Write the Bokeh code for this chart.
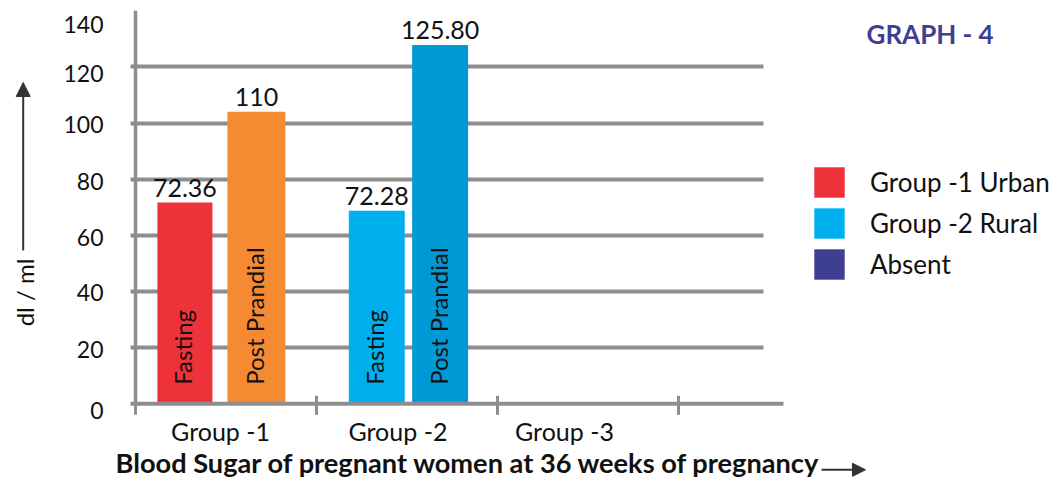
import math
from bokeh.plotting import figure
from bokeh.models import (ColumnDataSource, LabelSet, Label, Arrow, NormalHead, Range1d,
                          FixedTicker, Grid, Legend, LegendItem)
from bokeh.core.properties import value
from bokeh.embed import file_html
from bokeh.resources import INLINE

# ---------------- data ----------------
groups = ["Group -1", "Group -2", "Group -3"]
bar_group = [0, 0, 1, 1]
bar_kind = ["Fasting", "Post Prandial", "Fasting", "Post Prandial"]
bar_values = [71.7, 104.0, 68.8, 127.8]
value_labels = ["72.36", "110", "72.28", "125.80"]
legend_labels = ["Group -1 Urban", "Group -2 Rural", "Absent"]
absent_group = [2]
absent_values = [0]
y_ticks = [0, 20, 40, 60, 80, 100, 120, 140]
y_tick_labels = ["0", "20", "40", "60", "80", "100", "120", "140"]
group_edges = [0, 1, 2, 3]
title_text = "GRAPH - 4"
x_title = "Blood Sugar of pregnant women at 36 weeks of pregnancy"
y_title = "dl / ml"

# ---------------- style / layout ----------------
FONT = "Lato"
W, H = 1060, 482
X0_PX, PX_PER_X = 135.0, 181.0      # pixel position of x=0, pixels per group
Y0_PX, PX_PER_Y = 403.3, 2.807      # pixel position of y=0, pixels per unit
X_AXIS_END = 3.58
GRID_END = 3.47
TICK_OUT_PX = 5
XTICK_IN_PX, XTICK_OUT_PX = 8, 11

bar_offsets = [0.273, 0.668, 0.333, 0.683]
bar_widths = [0.304, 0.32, 0.309, 0.309]
bar_colors = ["#ee3239", "#f58a33", "#00b0ee", "#0099d6"]
absent_color = "#3e3f92"
grid_color = "#8e8e8e"
text_color = "#111111"
arrow_color = "#333333"
group_label_pos = [0.47, 1.45, 2.37]
ytick_label_shift = [-7, -2, -1, -2, -2, -1, -7, -14]


def dx(px):
    return (px - X0_PX) / PX_PER_X


def dy(py):
    return (Y0_PX - py) / PX_PER_Y


bar_x = [g + o for g, o in zip(bar_group, bar_offsets)]

p = figure(width=W, height=H, x_range=Range1d(dx(0), dx(W)), y_range=Range1d(dy(H), dy(0)),
           x_axis_type=None, y_axis_type=None, output_backend="svg", toolbar_location=None,
           min_border=0)
p.outline_line_color = None
p.background_fill_color = "white"
p.border_fill_color = "white"

# horizontal grid lines (also act as y-axis ticks on the left)
grid = Grid(dimension=1, ticker=FixedTicker(ticks=y_ticks[1:-1]),
            grid_line_color=grid_color, grid_line_width=4,
            cross_bounds=(-TICK_OUT_PX / PX_PER_X, GRID_END))
p.add_layout(grid)

# bars
src = ColumnDataSource(dict(x=bar_x, top=bar_values, w=bar_widths, color=bar_colors,
                            vlab=value_labels, kind=bar_kind, zero=[0] * len(bar_x)))
bars = p.vbar(x="x", top="top", width="w", fill_color="color", line_color=None, source=src)
absent = p.vbar(x=[g + 0.5 for g in absent_group], top=absent_values, width=0.3,
                fill_color=absent_color, line_color=None)

# axis lines and ticks
p.segment(x0=[0], y0=[0], x1=[0], y1=[y_ticks[-1]], line_color=grid_color, line_width=3.5)
p.segment(x0=[-TICK_OUT_PX / PX_PER_X], y0=[0], x1=[X_AXIS_END], y1=[0],
          line_color=grid_color, line_width=4)
p.segment(x0=group_edges, y0=[XTICK_IN_PX / PX_PER_Y] * len(group_edges),
          x1=group_edges, y1=[-XTICK_OUT_PX / PX_PER_Y] * len(group_edges),
          line_color=grid_color, line_width=3)

# value labels above bars
p.add_layout(LabelSet(x="x", y="top", text="vlab", source=src, text_align="center",
                      text_baseline="alphabetic", y_offset=6, text_font=value(FONT),
                      text_font_size="25px", text_color=text_color))
# rotated labels inside bars
p.add_layout(LabelSet(x="x", y="zero", text="kind", source=src, text_align="left",
                      text_baseline="middle", angle=math.pi / 2, y_offset=19, x_offset=-2,
                      text_font=value(FONT), text_font_size="24px", text_color=text_color))

# y tick labels
ysrc = ColumnDataSource(dict(x=[0] * len(y_ticks), y=y_ticks, t=y_tick_labels,
                             off=ytick_label_shift))
p.add_layout(LabelSet(x="x", y="y", text="t", source=ysrc, text_align="right",
                      text_baseline="middle", x_offset=-32, y_offset="off",
                      text_font=value(FONT), text_font_size="23px", text_color=text_color))
# group labels
gsrc = ColumnDataSource(dict(x=group_label_pos, y=[0] * len(groups), t=groups))
p.add_layout(LabelSet(x="x", y="y", text="t", source=gsrc, text_align="center",
                      text_baseline="alphabetic", y_offset=-37,
                      text_font=value(FONT), text_font_size="25px", text_color=text_color))

# axis titles with arrows
p.add_layout(Label(x=dx(115), y=dy(462), text=x_title, text_align="left",
                   text_baseline="middle", text_font=FONT, text_font_size="27.2px",
                   text_font_style="bold", text_color=text_color))
p.add_layout(Arrow(x_start=dx(821), y_start=dy(469.3), x_end=dx(865), y_end=dy(469.3),
                   line_color=arrow_color, line_width=2,
                   end=NormalHead(size=13, fill_color=arrow_color, line_color=arrow_color)))
p.add_layout(Label(x=dx(24), y=dy(292), text=y_title, angle=math.pi / 2, text_align="center",
                   text_baseline="middle", text_font=FONT, text_font_size="24px",
                   text_color=text_color))
p.add_layout(Arrow(x_start=dx(22.7), y_start=dy(250), x_end=dx(22.7), y_end=dy(82),
                   line_color=arrow_color, line_width=2,
                   end=NormalHead(size=14, fill_color=arrow_color, line_color=arrow_color)))

# title
p.add_layout(Label(x=dx(866), y=dy(33), text=title_text, text_align="left",
                   text_baseline="middle", text_font=FONT, text_font_size="26px",
                   text_font_style="bold", text_color=absent_color))

# legend
legend = Legend(items=[LegendItem(label=legend_labels[0], renderers=[bars], index=0),
                       LegendItem(label=legend_labels[1], renderers=[bars], index=2),
                       LegendItem(label=legend_labels[2], renderers=[absent])],
                location=(810, H - 283), glyph_width=38, glyph_height=38, spacing=3,
                label_standoff=22, padding=0, margin=0, border_line_color=None,
                background_fill_alpha=0, label_text_font=FONT, label_text_font_size="26px",
                label_text_color=text_color, label_height=38)
p.add_layout(legend)

open("out.html", "w").write(file_html(p, INLINE))
